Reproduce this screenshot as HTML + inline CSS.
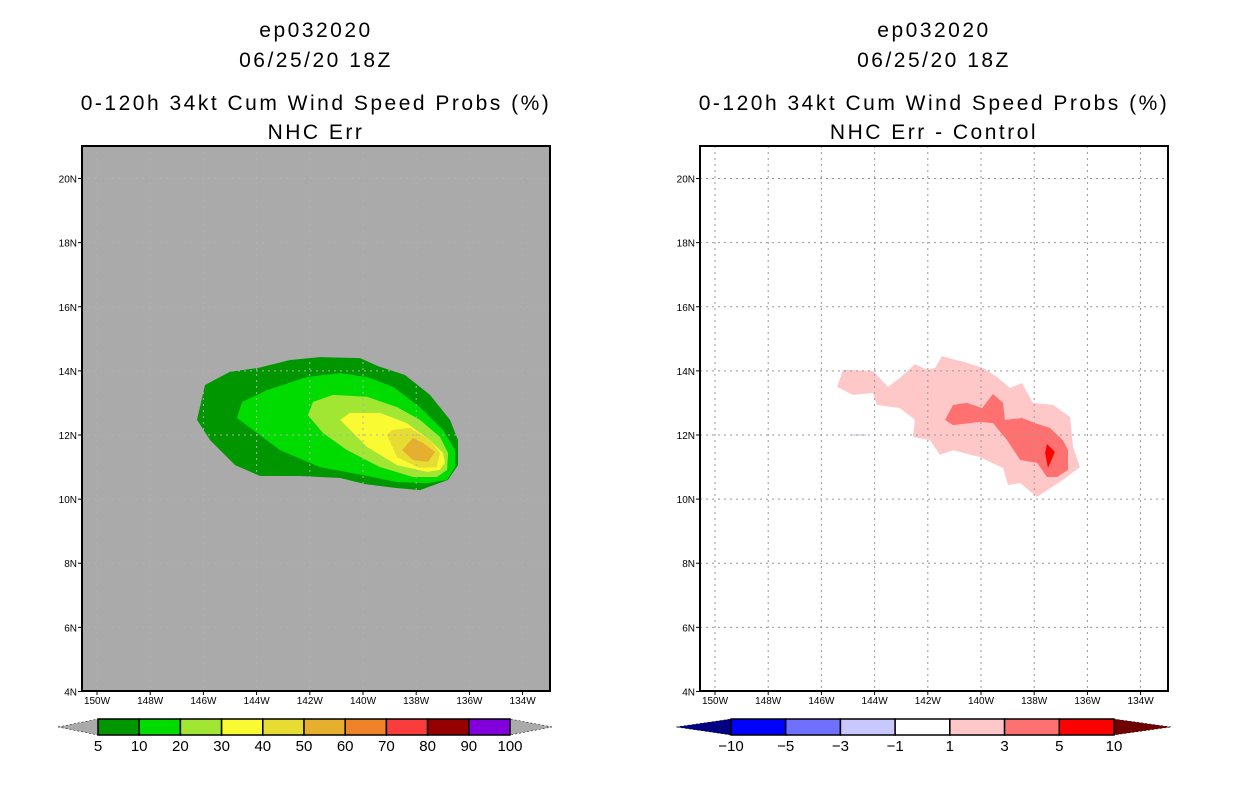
<!DOCTYPE html>
<html><head><meta charset="utf-8"><style>
body{margin:0;background:#fff;}
svg{display:block;font-family:"Liberation Sans",sans-serif;}
.t{font-size:21px;text-anchor:middle;fill:#000;letter-spacing:2.5px}
.tk{font-size:10px;fill:#000}
.cl{font-size:15px;text-anchor:middle;fill:#000}
</style></head><body>
<svg id="c" width="1236" height="800"></svg>
<script>
const lonTicks=[-150,-148,-146,-144,-142,-140,-138,-136,-134];
const lonLabels=["150W","148W","146W","144W","142W","140W","138W","136W","134W"];
const latTicks=[4,6,8,10,12,14,16,18,20];
const latLabels=["4N","6N","8N","10N","12N","14N","16N","18N","20N"];
const leftLevels=["5","10","20","30","40","50","60","70","80","90","100"];
const leftColors=["#009600","#00dc00","#a0e632","#fafa32","#e6dc32","#e6af2d","#f08228","#fa3c3c","#960000","#8200dc"];
const rightLevels=["-10","-5","-3","-1","1","3","5","10"];
const rightColors=["#0000ff","#7070ff","#c8c8ff","#ffffff","#ffc8c8","#ff7070","#ff0000"];
const prob5=[[-146.24,12.47],[-145.94,13.56],[-145.0,13.97],[-143.95,14.09],[-142.74,14.34],[-141.62,14.43],[-140.11,14.40],[-139.44,14.15],[-138.42,13.87],[-137.48,13.25],[-136.73,12.47],[-136.43,11.84],[-136.43,11.06],[-136.80,10.60],[-137.86,10.28],[-138.80,10.35],[-139.92,10.47],[-140.86,10.66],[-142.37,10.72],[-143.87,10.72],[-144.81,11.06],[-145.75,11.84]];
const prob10=[[-144.74,12.53],[-144.55,13.03],[-143.61,13.40],[-142.11,13.81],[-140.86,13.93],[-139.85,13.81],[-138.87,13.50],[-137.86,12.87],[-136.99,12.16],[-136.54,11.53],[-136.54,11.0],[-136.84,10.60],[-137.59,10.50],[-138.72,10.53],[-140.0,10.75],[-141.62,11.0],[-143.12,11.53]];
const prob20=[[-142.07,12.62],[-141.88,13.03],[-141.13,13.25],[-139.85,13.19],[-138.72,12.87],[-137.86,12.47],[-137.11,11.94],[-136.8,11.44],[-136.84,10.91],[-137.22,10.69],[-138.12,10.69],[-139.36,11.0],[-140.6,11.53],[-141.5,12.06]];
const prob30=[[-140.86,12.47],[-140.49,12.69],[-139.36,12.69],[-138.35,12.37],[-137.48,11.84],[-136.99,11.44],[-136.92,11.13],[-137.11,10.91],[-137.59,10.85],[-138.72,11.06],[-139.85,11.63]];
const prob40=[[-139.1,12.0],[-138.87,12.16],[-138.23,12.22],[-137.48,11.84],[-137.11,11.44],[-137.22,11.0],[-137.86,10.97],[-138.72,11.31]];
const prob50=[[-138.53,11.53],[-138.12,11.91],[-137.74,11.75],[-137.29,11.47],[-137.56,11.16],[-138.12,11.22]];
const diff1=[[-145.41,13.50],[-145.19,14.03],[-144.06,14.0],[-143.5,13.50],[-143.05,13.78],[-142.48,14.21],[-142.03,14.03],[-141.73,14.09],[-141.47,14.46],[-140.53,14.25],[-139.92,14.09],[-139.4,13.81],[-138.91,13.47],[-138.46,13.62],[-138.05,13.0],[-137.29,12.94],[-136.65,12.56],[-136.54,11.63],[-136.28,11.0],[-136.92,10.60],[-137.89,10.07],[-138.53,10.50],[-138.98,10.44],[-139.17,10.97],[-140.04,11.31],[-141.05,11.53],[-141.54,11.38],[-141.92,11.84],[-142.56,11.94],[-142.48,12.47],[-143.05,12.84],[-143.91,12.94],[-144.06,13.31],[-144.81,13.25]];
const diff3=[[-141.35,12.47],[-141.05,12.94],[-140.53,13.0],[-139.96,12.84],[-139.55,13.28],[-139.17,13.0],[-139.1,12.47],[-138.46,12.53],[-137.97,12.37],[-137.41,12.22],[-136.92,11.84],[-136.73,11.53],[-136.73,10.91],[-137.14,10.69],[-137.52,10.69],[-137.89,11.13],[-138.53,11.22],[-139.02,11.84],[-139.55,12.37],[-140.04,12.41],[-141.05,12.31]];
const diff5=[[-137.52,11.72],[-137.22,11.47],[-137.48,10.97],[-137.59,11.44]];
const diffNeg=[[-144.9,12.02],[-144.3,12.02],[-144.3,11.98],[-144.9,11.98]];

const NS="http://www.w3.org/2000/svg";
const svg=document.getElementById('c');
function mk(tag,attrs,parent){const e=document.createElementNS(NS,tag);for(const k in attrs)e.setAttribute(k,attrs[k]);(parent||svg).appendChild(e);return e;}
const PX0=97, PXD=26.6, PY0=435, PYD=32.06;
function xs(off){return lon=>off+PX0+(lon+150)*PXD;}
function ys(lat){return PY0-(lat-12)*PYD;}

function panel(off,cx,sub,bg,grid,layers,name){
  const x=xs(off);
  const g=mk('g',{});
  
  
  const t=[["ep032020",37],["06/25/20 18Z",67],["0-120h 34kt Cum Wind Speed Probs (%)",110],[sub,139]];
  t.forEach((s,i)=>{const e=mk('text',{x:cx,y:s[1],class:'t'},g);e.textContent=s[0];
    
    });
  const bx=82+off, by=146, bw=468, bh=545;
  const r=mk('rect',{x:bx,y:by,width:bw,height:bh,fill:bg},g);
  
  
  const cp=mk('clipPath',{id:'cp'+off},g);mk('rect',{x:bx,y:by,width:bw,height:bh},cp);
  const lg=mk('g',{'clip-path':'url(#cp'+off+')'},g);
  layers.forEach(L=>{const p=mk('polygon',{points:L[0].map(d=>x(d[0]).toFixed(1)+','+ys(d[1]).toFixed(1)).join(' '),fill:L[1]},lg);
    
    });
  lonTicks.forEach(v=>{mk('line',{x1:x(v),x2:x(v),y1:by,y2:by+bh,stroke:grid,'stroke-width':1,'stroke-dasharray':'2,4'},lg);});
  latTicks.forEach(v=>{mk('line',{x1:bx,x2:bx+bw,y1:ys(v),y2:ys(v),stroke:grid,'stroke-width':1,'stroke-dasharray':'2,4'},lg);});
  mk('rect',{x:bx,y:by,width:bw,height:bh,fill:'none',stroke:'#000','stroke-width':2},g);
  lonTicks.forEach((v,i)=>{mk('line',{x1:x(v),x2:x(v),y1:by+bh,y2:by+bh+4,stroke:'#000'},g);
    const e=mk('text',{x:x(v),y:by+bh+13,class:'tk','text-anchor':'middle'},g);e.textContent=lonLabels[i];
    
    });
  latTicks.forEach((v,i)=>{mk('line',{x1:bx-4,x2:bx,y1:ys(v),y2:ys(v),stroke:'#000'},g);
    const e=mk('text',{x:bx-5,y:ys(v)+4,class:'tk','text-anchor':'end'},g);e.textContent=latLabels[i];
    
    });
}
panel(0,316,"NHC Err","#aaaaaa","#b0b0b0",[[prob5,leftColors[0],'contour-5'],[prob10,leftColors[1],'contour-10'],[prob20,leftColors[2],'contour-20'],[prob30,leftColors[3],'contour-30'],[prob40,leftColors[4],'contour-40'],[prob50,leftColors[5],'contour-50']],'left-panel');
panel(618,934,"NHC Err - Control","#ffffff","#999999",[[diff1,rightColors[4],'diff-1-3'],[diff3,rightColors[5],'diff-3-5'],[diff5,rightColors[6],'diff-5-10'],[diffNeg,rightColors[2],'diff-neg']],'right-panel');

function colorbar(x0,x1,tipL,tipR,colors,levels,lc,rc,name){
  const g=mk('g',{});
  
  
  const y0=719,y1=735,ym=727,w=(x1-x0)/colors.length;
  mk('polygon',{points:`${tipL},${ym} ${x0},${y0} ${x0},${y1}`,fill:lc,stroke:'#000','stroke-width':0.5,'stroke-dasharray':'2,2'},g);
  mk('polygon',{points:`${tipR},${ym} ${x1},${y0} ${x1},${y1}`,fill:rc,stroke:'#000','stroke-width':0.5,'stroke-dasharray':'2,2'},g);
  colors.forEach((c,i)=>{const r=mk('rect',{x:x0+i*w,y:y0,width:w,height:y1-y0,fill:c,stroke:'#000','stroke-width':1.5},g);
    
    });
  levels.forEach((l,i)=>{const e=mk('text',{x:x0+i*w,y:751,class:'cl'},g);e.textContent=l.replace('-','\u2212');
    
    });
}
colorbar(98,510,58,552,leftColors,leftLevels,'#aaaaaa','#aaaaaa','left-colorbar');
colorbar(731,1114,676,1171,rightColors,rightLevels,'#000080','#700000','right-colorbar');
</script>
</body></html>
